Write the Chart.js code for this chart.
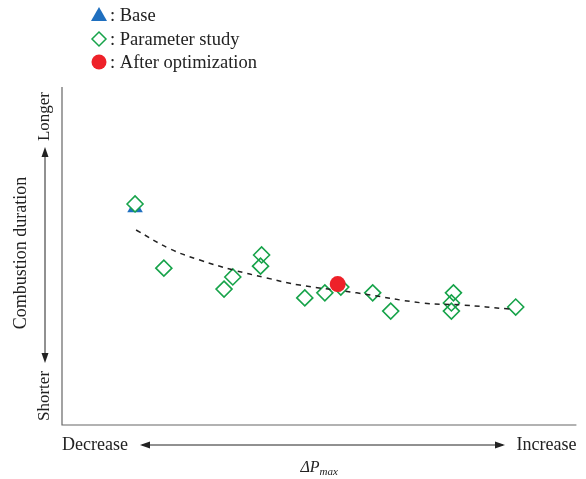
<!DOCTYPE html>
<html>
<head>
<meta charset="utf-8">
<script src="https://cdn.jsdelivr.net/npm/chart.js@4.4.1/dist/chart.umd.min.js"></script>
<style>
  html, body { margin: 0; padding: 0; background: #fff; }
  canvas { display: block; }
</style>
</head>
<body>
<canvas id="c" width="586" height="479"></canvas>
<script>
// Relative scale: 0..100 on both axes (qualitative trend plot)
const baseX = [14.2];
const baseY = [64.3];

const studyX = [14.2, 19.8, 31.5, 33.2, 38.6, 38.8, 47.2, 51.1, 54.2, 60.4, 63.9, 75.7, 75.7, 76.1, 88.2];
const studyY = [65.4, 46.4, 40.2, 43.8, 47.0, 50.3, 37.6, 39.1, 40.8, 39.1, 33.7, 33.7, 36.1, 39.1, 34.9];

const optX = [53.6];
const optY = [41.7];

const trendX = [14.4, 21.0, 26.8, 33.2, 39.8, 46.2, 57.3, 70.1, 77.9, 87.0];
const trendY = [57.7, 52.1, 48.8, 45.9, 43.5, 41.4, 39.1, 36.1, 35.5, 34.3];

const legendLabels = [': Base', ': Parameter study', ': After optimization'];

const toPoints = (xs, ys) => xs.map((x, i) => ({ x: x, y: ys[i] }));

const BLUE = '#1f6fbf';
const GREEN = '#17a34a';
const RED = '#ee2129';
const SERIF = '"Liberation Serif", "DejaVu Serif", serif';

function arrowHead(ctx, x, y, dir) {
  const L = 10, W = 3.5;
  ctx.beginPath();
  if (dir === 'r') { ctx.moveTo(x, y); ctx.lineTo(x - L, y - W); ctx.lineTo(x - L, y + W); }
  if (dir === 'l') { ctx.moveTo(x, y); ctx.lineTo(x + L, y - W); ctx.lineTo(x + L, y + W); }
  if (dir === 'u') { ctx.moveTo(x, y); ctx.lineTo(x - W, y + L); ctx.lineTo(x + W, y + L); }
  if (dir === 'd') { ctx.moveTo(x, y); ctx.lineTo(x - W, y - L); ctx.lineTo(x + W, y - L); }
  ctx.closePath();
  ctx.fill();
}

const decorPlugin = {
  id: 'decor',
  beforeDatasetsDraw(chart) {
    const ctx = chart.ctx;
    const a = chart.chartArea;
    ctx.save();
    ctx.strokeStyle = '#666';
    ctx.lineWidth = 1.2;
    ctx.beginPath();
    ctx.moveTo(a.left, a.top);
    ctx.lineTo(a.left, a.bottom);
    ctx.lineTo(a.right, a.bottom);
    ctx.stroke();
    ctx.restore();
  },
  afterDraw(chart) {
    const ctx = chart.ctx;
    const a = chart.chartArea;
    ctx.save();
    ctx.fillStyle = '#222';
    ctx.strokeStyle = '#222';
    ctx.font = '18px ' + SERIF;
    ctx.textBaseline = 'middle';

    // Horizontal axis annotation
    const hy = a.bottom + 20;
    ctx.textAlign = 'left';
    ctx.fillText('Decrease', a.left, hy);
    ctx.textAlign = 'right';
    ctx.fillText('Increase', a.right, hy);
    ctx.lineWidth = 1;
    ctx.beginPath();
    ctx.moveTo(142, hy);
    ctx.lineTo(503, hy);
    ctx.stroke();
    arrowHead(ctx, 140, hy, 'l');
    arrowHead(ctx, 505, hy, 'r');

    // ΔP_max
    ctx.font = 'italic 16px ' + SERIF;
    ctx.textAlign = 'left';
    const mainW = ctx.measureText('ΔP').width;
    ctx.font = 'italic 11px ' + SERIF;
    const subW = ctx.measureText('max').width;
    const sx = (a.left + a.right) / 2 - (mainW + subW) / 2;
    ctx.font = 'italic 16px ' + SERIF;
    ctx.fillText('ΔP', sx, a.bottom + 43);
    ctx.font = 'italic 11px ' + SERIF;
    ctx.fillText('max', sx + mainW, a.bottom + 47);

    // Vertical axis annotation
    const vx = 45;
    ctx.save();
    ctx.translate(vx, 0);
    ctx.rotate(-Math.PI / 2);
    ctx.font = '17px ' + SERIF;
    ctx.textAlign = 'right';
    ctx.fillText('Longer', -92, 0);
    ctx.textAlign = 'left';
    ctx.fillText('Shorter', -421, 0);
    ctx.restore();
    ctx.save();
    ctx.translate(21, 253);
    ctx.rotate(-Math.PI / 2);
    ctx.font = '18px ' + SERIF;
    ctx.textAlign = 'center';
    ctx.fillText('Combustion duration', 0, 0);
    ctx.restore();
    ctx.beginPath();
    ctx.moveTo(vx, 150);
    ctx.lineTo(vx, 360);
    ctx.stroke();
    arrowHead(ctx, vx, 147, 'u');
    arrowHead(ctx, vx, 363, 'd');

    // Legend
    const lx = 99;
    const rows = [15, 39, 62];
    ctx.textAlign = 'left';
    ctx.font = '18.5px ' + SERIF;
    // triangle
    ctx.fillStyle = BLUE;
    ctx.beginPath();
    ctx.moveTo(lx, rows[0] - 8);
    ctx.lineTo(lx + 8, rows[0] + 6);
    ctx.lineTo(lx - 8, rows[0] + 6);
    ctx.closePath();
    ctx.fill();
    // diamond
    ctx.strokeStyle = GREEN;
    ctx.lineWidth = 1.5;
    ctx.beginPath();
    ctx.moveTo(lx, rows[1] - 7);
    ctx.lineTo(lx + 7, rows[1]);
    ctx.lineTo(lx, rows[1] + 7);
    ctx.lineTo(lx - 7, rows[1]);
    ctx.closePath();
    ctx.stroke();
    // circle
    ctx.fillStyle = RED;
    ctx.beginPath();
    ctx.arc(lx, rows[2], 7.5, 0, Math.PI * 2);
    ctx.fill();
    ctx.fillStyle = '#222';
    legendLabels.forEach((t, i) => ctx.fillText(t, lx + 11, rows[i] + 1));
    ctx.restore();
  }
};

new Chart(document.getElementById('c'), {
  type: 'scatter',
  data: {
    datasets: [
      {
        label: 'After optimization',
        data: toPoints(optX, optY),
        pointStyle: 'circle',
        pointRadius: 8,
        backgroundColor: RED,
        borderColor: RED,
        borderWidth: 0,
        order: 0
      },
      {
        label: 'Trend',
        type: 'line',
        data: toPoints(trendX, trendY),
        borderColor: '#222',
        borderWidth: 1.5,
        borderDash: [5, 5],
        pointRadius: 0,
        tension: 0.4,
        fill: false,
        order: 1
      },
      {
        label: 'Parameter study',
        data: toPoints(studyX, studyY),
        pointStyle: 'rectRot',
        pointRadius: 8,
        // the first study point sits on the base case and covers its marker
        pointBackgroundColor: studyX.map((_, i) => i === 0 ? '#fff' : 'rgba(255,255,255,0)'),
        borderColor: GREEN,
        borderWidth: 1.6,
        order: 2
      },
      {
        label: 'Base',
        data: toPoints(baseX, baseY),
        pointStyle: 'triangle',
        pointRadius: 9,
        backgroundColor: BLUE,
        borderColor: BLUE,
        borderWidth: 0,
        order: 3
      }
    ]
  },
  options: {
    responsive: false,
    animation: false,
    layout: { padding: { left: 62, right: 9, top: 87, bottom: 54 } },
    plugins: { legend: { display: false }, tooltip: { enabled: false } },
    scales: {
      x: { type: 'linear', min: 0, max: 100, display: false },
      y: { type: 'linear', min: 0, max: 100, display: false }
    }
  },
  plugins: [decorPlugin]
});
</script>
</body>
</html>
